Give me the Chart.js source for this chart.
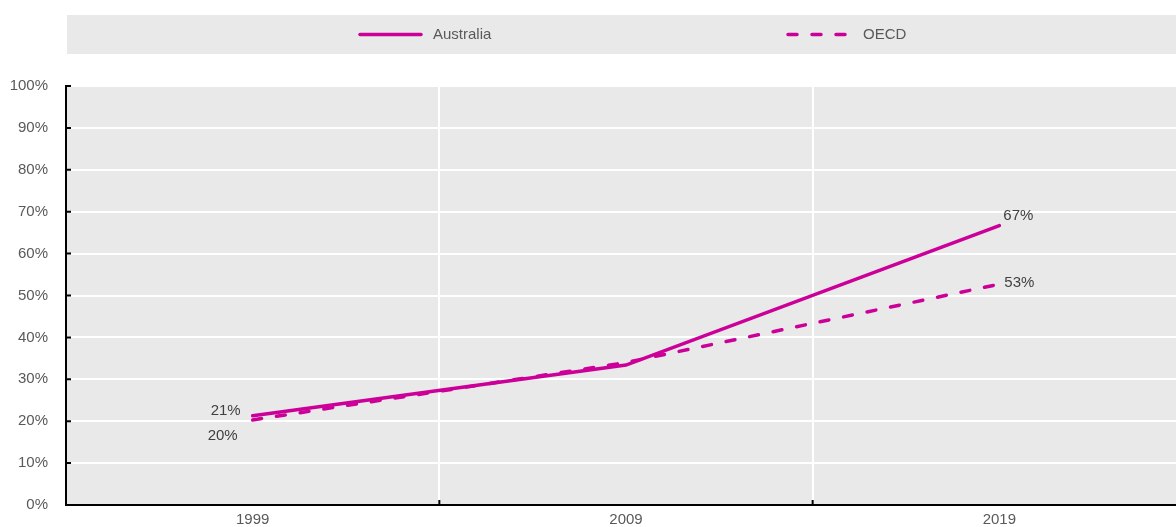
<!DOCTYPE html>
<html>
<head>
<meta charset="utf-8">
<script src="https://cdn.jsdelivr.net/npm/chart.js@4.4.0/dist/chart.umd.min.js"></script>
<style>
  html, body { margin: 0; padding: 0; overflow: hidden; background: #fff; }
  #wrap { width: 1186px; height: 527px; }
</style>
</head>
<body>
<div id="wrap"><canvas id="c" width="1186" height="527"></canvas></div>
<script>
const categories = ['1999', '2009', '2019'];
const australia = [21.3, 33.4, 66.7];
const oecd = [20.3, 34.0, 52.7];
const australiaLabels = ['21%', null, '67%'];
const oecdLabels = ['20%', null, '53%'];
const yTicks = [0, 10, 20, 30, 40, 50, 60, 70, 80, 90, 100];

const MAGENTA = '#CC0099';
const FONT = '"Liberation Sans Narrow", "Arial Narrow", "Liberation Sans", Arial, sans-serif';

const bgPlugin = {
  id: 'bg',
  beforeDraw(chart) {
    const { ctx, chartArea: a } = chart;
    ctx.save();
    ctx.fillStyle = '#e9e9e9';
    ctx.fillRect(a.left, a.top, a.right - a.left, a.bottom - a.top);
    // legend box
    ctx.fillRect(67, 15, chart.width - 67, 39);
    ctx.restore();
  }
};

const legendPlugin = {
  id: 'customLegend',
  afterDraw(chart) {
    const { ctx } = chart;
    const items = [
      { ds: 0, x1: 360, x2: 421, tx: 433 },
      { ds: 1, x1: 788, x2: 851, tx: 863 }
    ];
    const y = 34.5;
    ctx.save();
    items.forEach(it => {
      const d = chart.data.datasets[it.ds];
      ctx.strokeStyle = d.borderColor;
      ctx.lineWidth = 3.5;
      ctx.lineCap = 'round';
      ctx.setLineDash(d.borderDash || []);
      ctx.beginPath();
      ctx.moveTo(it.x1, y);
      ctx.lineTo(it.x2, y);
      ctx.stroke();
      ctx.setLineDash([]);
      ctx.fillStyle = '#595959';
      ctx.font = '15px ' + FONT;
      ctx.textAlign = 'left';
      ctx.textBaseline = 'middle';
      ctx.fillText(d.label, it.tx, y);
    });
    ctx.restore();
  }
};

const ticksPlugin = {
  id: 'innerTicks',
  afterDraw(chart) {
    const { ctx, chartArea: a, scales } = chart;
    ctx.save();
    ctx.strokeStyle = '#000';
    ctx.lineWidth = 2;
    ctx.beginPath();
    scales.y.ticks.forEach((t, i) => {
      const py = scales.y.getPixelForTick(i);
      ctx.moveTo(a.left, py);
      ctx.lineTo(a.left + 5, py);
    });
    const n = categories.length;
    for (let i = 1; i < n; i++) {
      const px = (scales.x.getPixelForValue(i - 1) + scales.x.getPixelForValue(i)) / 2;
      ctx.moveTo(px, a.bottom);
      ctx.lineTo(px, a.bottom - 5);
    }
    ctx.stroke();
    ctx.restore();
  }
};

const labelsPlugin = {
  id: 'dataLabels',
  afterDatasetsDraw(chart) {
    const { ctx } = chart;
    const sets = [
      { ds: 0, labels: australiaLabels, off: [[-12, -5, 'right'], null, [4, -10, 'left']] },
      { ds: 1, labels: oecdLabels, off: [[-15, 16, 'right'], null, [5, -1, 'left']] }
    ];
    ctx.save();
    ctx.fillStyle = '#404040';
    ctx.font = '15px ' + FONT;
    ctx.textBaseline = 'middle';
    sets.forEach(s => {
      const meta = chart.getDatasetMeta(s.ds);
      s.labels.forEach((lab, i) => {
        if (!lab) return;
        const pt = meta.data[i];
        const o = s.off[i];
        ctx.textAlign = o[2];
        ctx.fillText(lab, pt.x + o[0], pt.y + o[1]);
      });
    });
    ctx.restore();
  }
};

new Chart(document.getElementById('c'), {
  type: 'line',
  data: {
    labels: categories,
    datasets: [
      {
        label: 'Australia',
        data: australia,
        borderColor: MAGENTA,
        borderWidth: 3.5,
        pointRadius: 0,
        borderCapStyle: 'round',
        tension: 0,
        fill: false
      },
      {
        label: 'OECD',
        data: oecd,
        borderColor: MAGENTA,
        borderWidth: 3.5,
        borderDash: [9, 15],
        borderCapStyle: 'round',
        pointRadius: 0,
        tension: 0,
        fill: false
      }
    ]
  },
  options: {
    responsive: false,
    animation: false,
    layout: { padding: { top: 86, right: 0, left: 0, bottom: 0 } },
    plugins: {
      legend: { display: false },
      tooltip: { enabled: false }
    },
    scales: {
      x: {
        type: 'category',
        offset: true,
        grid: {
          offset: true,
          color: '#ffffff',
          lineWidth: 2,
          drawTicks: false
        },
        border: { display: true, color: '#000', width: 2 },
        ticks: {
          color: '#595959',
          font: { size: 15, family: FONT },
          padding: 6,
          maxRotation: 0
        },
        afterFit(scale) { scale.height = 22; }
      },
      y: {
        min: 0,
        max: 100,
        afterBuildTicks(scale) { scale.ticks = yTicks.map(v => ({ value: v })); },
        grid: {
          color: '#ffffff',
          lineWidth: 2,
          drawTicks: false
        },
        border: { display: true, color: '#000', width: 2 },
        ticks: {
          color: '#595959',
          font: { size: 15, family: FONT },
          padding: 18,
          callback: v => v + '%'
        },
        afterFit(scale) {
          scale.width = 66;
          scale.paddingTop = 0;
          scale.paddingBottom = 0;
        }
      }
    }
  },
  plugins: [bgPlugin, legendPlugin, ticksPlugin, labelsPlugin]
});
</script>
</body>
</html>
